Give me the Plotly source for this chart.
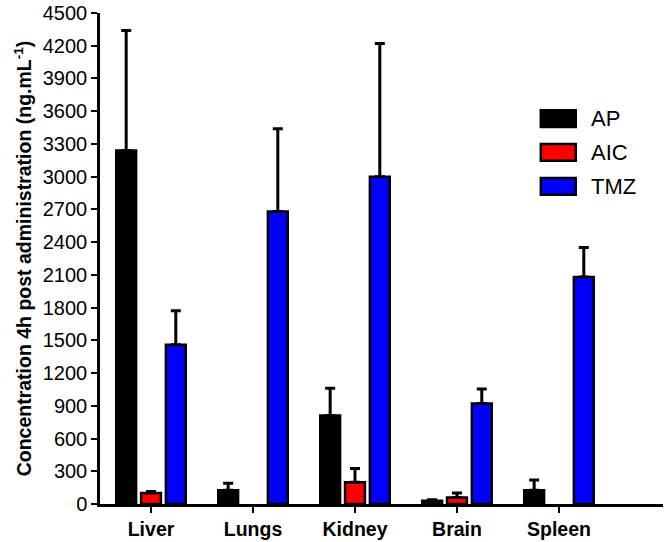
import plotly.graph_objects as go

organs = ["Liver", "Lungs", "Kidney", "Brain", "Spleen"]
ap = [3240, 125, 810, 30, 125]
ap_err = [1100, 65, 250, 10, 95]
aic = [100, None, 200, 60, None]
aic_err = [15, None, 125, 40, None]
tmz = [1460, 2680, 3000, 920, 2080]
tmz_err = [310, 760, 1220, 135, 270]
y_ticks = list(range(0, 4501, 300))

series = [("AP", ap, ap_err, "#000000"), ("AIC", aic, aic_err, "#ff0000"), ("TMZ", tmz, tmz_err, "#0000ff")]

fig = go.Figure()
for name, vals, errs, col in series:
    fig.add_trace(go.Bar(
        x=organs, y=vals, name=name, showlegend=False,
        marker=dict(color=col, line=dict(color="black", width=2.5)),
        error_y=dict(type="data", array=errs, arrayminus=[0] * len(errs), symmetric=False,
                     color="black", thickness=3, width=5, visible=True),
    ))

# custom legend (wide outlined swatches like the original)
leg_top = [0.802, 0.733, 0.664]
for (name, _, _, col), yt in zip(series, leg_top):
    fig.add_shape(type="rect", xref="paper", yref="paper", x0=0.783, x1=0.845,
                  y0=yt - 0.034, y1=yt, fillcolor=col, line=dict(color="black", width=2.5))
    fig.add_annotation(xref="paper", yref="paper", x=0.868, y=yt - 0.017, text=name,
                       showarrow=False, xanchor="left", yanchor="middle",
                       font=dict(size=22, color="black", family="Liberation Sans, Arial"))

fig.update_layout(
    width=665, height=542,
    margin=dict(l=100, r=2, t=12, b=36),
    plot_bgcolor="white", paper_bgcolor="white",
    barmode="group", bargap=0.27, bargroupgap=0.2,
    font=dict(family="Liberation Sans, Arial", color="black"),
    xaxis=dict(range=[-0.5, 5.02], showline=True, linecolor="black", linewidth=2.5,
               ticks="outside", ticklen=6, tickwidth=2, tickcolor="black",
               tickfont=dict(size=19.5, color="black"),
               showgrid=False, zeroline=False),
    yaxis=dict(range=[0, 4500], tickvals=y_ticks, showline=True, linecolor="black", linewidth=2.5,
               ticks="outside", ticklen=6, tickwidth=2, tickcolor="black",
               tickfont=dict(size=20, color="black"),
               showgrid=False, zeroline=False,
               title=dict(text="<b>Concentration 4h post administration (ng.mL<sup>-1</sup>)</b>",
                          font=dict(size=19.5, color="black"), standoff=6)),
)
fig.update_xaxes(tickprefix="<b>", ticksuffix="</b>")
fig.update_yaxes(tickprefix="<b>", ticksuffix="</b>")

fig.write_html("out.html")
